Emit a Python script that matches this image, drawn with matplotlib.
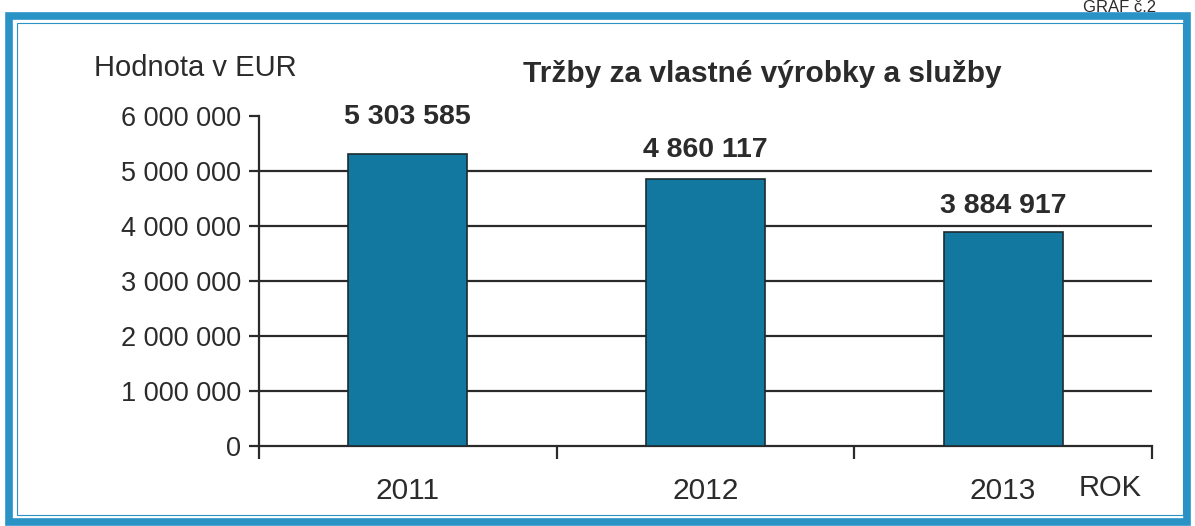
import matplotlib as mpl
mpl.use('Agg')
import matplotlib.pyplot as plt
from matplotlib.patches import Rectangle
import matplotlib.ticker as mticker

plt.rcParams['font.family'] = ['Liberation Sans', 'DejaVu Sans']

years = ['2011', '2012', '2013']
sales = [5303585, 4860117, 3884917]
y_ticks = [0, 1000000, 2000000, 3000000, 4000000, 5000000, 6000000]

bar_color = '#13789f'
frame_color = '#2a93c6'
text_color = '#2b2b2b'
label_offsets = [37, 29, 26]  # px above bar top


def space_fmt(v, pos=None):
    return '{:,.0f}'.format(v).replace(',', ' ')


fig = plt.figure(figsize=(11.95, 5.26), dpi=100)
ax = fig.add_axes([259 / 1195, 80 / 526, 893 / 1195, 330 / 526])

x = range(len(years))
ax.bar(x, sales, width=0.40, color=bar_color, edgecolor='#1d2b30', linewidth=1.2, zorder=3)
ax.set_xlim(-0.5, len(years) - 0.5)
ax.set_ylim(0, 6000000)

# grid lines without the top one
for t in y_ticks[1:-1]:
    ax.axhline(t, color='#2a2a2a', linewidth=1.6, zorder=1)

ax.set_yticks(y_ticks)
ax.yaxis.set_major_formatter(mticker.FuncFormatter(space_fmt))
ax.set_xticks([-0.5, 0.5, 1.5, 2.5])
ax.set_xticklabels([])
ax.tick_params(axis='y', direction='out', length=7, width=1.6, labelsize=19.5, colors=text_color, pad=6)
ax.tick_params(axis='x', direction='out', length=9, width=1.6, colors=text_color)
for side in ['top', 'right']:
    ax.spines[side].set_visible(False)
for side in ['left', 'bottom']:
    ax.spines[side].set_linewidth(1.6)
    ax.spines[side].set_color('#2a2a2a')

for i, (yr, v) in enumerate(zip(years, sales)):
    ax.text(i, -0.135, yr, transform=ax.get_xaxis_transform(), ha='center', va='center',
            fontsize=21.5, color=text_color)
    ax.annotate(space_fmt(v), (i, v), xytext=(0, label_offsets[i] * 0.72), textcoords='offset points',
                ha='center', va='center', fontsize=20.5, fontweight='bold', color=text_color)

fig.text(1110 / 1195, 1 - 488 / 526, 'ROK', ha='center', va='center', fontsize=21, color=text_color)
fig.text(195 / 1195, 1 - 68 / 526, 'Hodnota v EUR', ha='center', va='center', fontsize=21, color=text_color)
fig.text(762 / 1195, 1 - 74 / 526, 'Tržby za vlastné výrobky a služby', ha='center', va='center',
         fontsize=21.5, fontweight='bold', color=text_color)
fig.text(1120 / 1195, 1, 'GRAF č.2', ha='center', va='top', fontsize=12, color=text_color)

# outer blue frame
fig.patches.append(Rectangle((9 / 1195, 4 / 526), 1178 / 1195, 506 / 526, transform=fig.transFigure,
                             fill=False, edgecolor=frame_color, linewidth=5.5))
fig.patches.append(Rectangle((17 / 1195, 11 / 526), 1166 / 1195, 492 / 526, transform=fig.transFigure,
                             fill=False, edgecolor=frame_color, linewidth=0.8))

fig.savefig('out.png', dpi=100)
